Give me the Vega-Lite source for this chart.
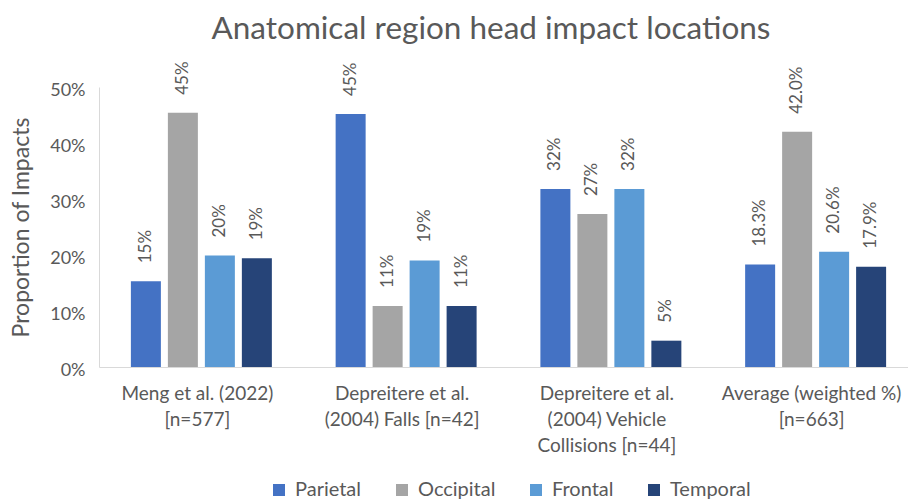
{
  "$schema": "https://vega.github.io/schema/vega-lite/v6.json",
  "width": 806,
  "height": 280,
  "autosize": {"type": "none"},
  "padding": {"left": 99, "top": 87, "right": 3, "bottom": 135},
  "background": "white",
  "title": {
    "text": "Anatomical region head impact locations",
    "font": "Lato",
    "fontSize": 31.5,
    "fontWeight": "normal",
    "color": "#595959",
    "anchor": "middle",
    "dx": -11,
    "offset": 16
  },
  "config": {"view": {"stroke": null}, "font": "Lato"},
  "data": {
    "values": [
      {"study": "Meng et al. (2022)|[n=577]", "region": "Parietal", "value": 0.153},
      {"study": "Meng et al. (2022)|[n=577]", "region": "Occipital", "value": 0.454},
      {"study": "Meng et al. (2022)|[n=577]", "region": "Frontal", "value": 0.199},
      {"study": "Meng et al. (2022)|[n=577]", "region": "Temporal", "value": 0.194},
      {"study": "Depreitere et al.|(2004) Falls [n=42]", "region": "Parietal", "value": 0.452},
      {"study": "Depreitere et al.|(2004) Falls [n=42]", "region": "Occipital", "value": 0.109},
      {"study": "Depreitere et al.|(2004) Falls [n=42]", "region": "Frontal", "value": 0.19},
      {"study": "Depreitere et al.|(2004) Falls [n=42]", "region": "Temporal", "value": 0.109},
      {"study": "Depreitere et al.|(2004) Vehicle|Collisions [n=44]", "region": "Parietal", "value": 0.318},
      {"study": "Depreitere et al.|(2004) Vehicle|Collisions [n=44]", "region": "Occipital", "value": 0.273},
      {"study": "Depreitere et al.|(2004) Vehicle|Collisions [n=44]", "region": "Frontal", "value": 0.318},
      {"study": "Depreitere et al.|(2004) Vehicle|Collisions [n=44]", "region": "Temporal", "value": 0.047},
      {"study": "Average (weighted %)|[n=663]", "region": "Parietal", "value": 0.183},
      {"study": "Average (weighted %)|[n=663]", "region": "Occipital", "value": 0.42},
      {"study": "Average (weighted %)|[n=663]", "region": "Frontal", "value": 0.206},
      {"study": "Average (weighted %)|[n=663]", "region": "Temporal", "value": 0.179}
    ]
  },
  "encoding": {
    "x": {
      "field": "study",
      "type": "nominal",
      "sort": [
        "Meng et al. (2022)|[n=577]",
        "Depreitere et al.|(2004) Falls [n=42]",
        "Depreitere et al.|(2004) Vehicle|Collisions [n=44]",
        "Average (weighted %)|[n=663]"
      ],
      "scale": {"range": [0, 819], "paddingInner": 0, "paddingOuter": 0},
      "axis": {
        "title": null,
        "labelAngle": 0,
        "ticks": false,
        "domainColor": "#D9D9D9",
        "domainWidth": 1,
        "labelFont": "Lato",
        "labelFontSize": 19,
        "labelColor": "#595959",
        "labelLineHeight": 26,
        "labelBaseline": "top",
        "labelPadding": 17,
        "labelOffset": -4,
        "labelLimit": 400,
        "labelExpr": "split(datum.label, '|')"
      }
    },
    "xOffset": {
      "field": "region",
      "type": "nominal",
      "sort": ["Parietal", "Occipital", "Frontal", "Temporal"],
      "scale": {"paddingInner": 0.189, "paddingOuter": 0.862}
    },
    "y": {
      "field": "value",
      "type": "quantitative",
      "scale": {"domain": [0, 0.5]},
      "axis": {
        "values": [0, 0.1, 0.2, 0.3, 0.4, 0.5],
        "format": ".0%",
        "grid": false,
        "ticks": false,
        "domainColor": "#D9D9D9",
        "domainWidth": 1,
        "labelFont": "Lato",
        "labelFontSize": 18,
        "labelColor": "#595959",
        "labelPadding": 14,
        "labelOffset": 3,
        "title": "Proportion of Impacts",
        "titleFont": "Lato",
        "titleFontSize": 23,
        "titleFontWeight": "normal",
        "titleColor": "#595959",
        "titlePadding": 16
      }
    }
  },
  "layer": [
    {
      "mark": {"type": "bar"},
      "encoding": {
        "color": {
          "field": "region",
          "type": "nominal",
          "sort": ["Parietal", "Occipital", "Frontal", "Temporal"],
          "scale": {
            "domain": ["Parietal", "Occipital", "Frontal", "Temporal"],
            "range": ["#4472C4", "#A5A5A5", "#5B9BD5", "#264478"]
          },
          "legend": {
            "orient": "none",
            "legendX": 170,
            "legendY": 393,
            "direction": "horizontal",
            "title": null,
            "symbolType": "square",
            "symbolSize": 144,
            "symbolStrokeWidth": 0,
            "labelFont": "Lato",
            "labelFontSize": 20,
            "labelColor": "#595959",
            "labelOffset": 6,
            "columnPadding": 30
          }
        }
      }
    },
    {
      "transform": [{"filter": "indexof(datum.study, 'Average') !== 0"}],
      "mark": {"type": "text", "angle": 270, "align": "left", "baseline": "middle", "dx": 18, "font": "Lato", "fontSize": 17, "color": "#595959"},
      "encoding": {"text": {"field": "value", "type": "quantitative", "format": ".0%"}}
    },
    {
      "transform": [{"filter": "indexof(datum.study, 'Average') === 0"}],
      "mark": {"type": "text", "angle": 270, "align": "left", "baseline": "middle", "dx": 18, "font": "Lato", "fontSize": 17, "color": "#595959"},
      "encoding": {"text": {"field": "value", "type": "quantitative", "format": ".1%"}}
    }
  ]
}
